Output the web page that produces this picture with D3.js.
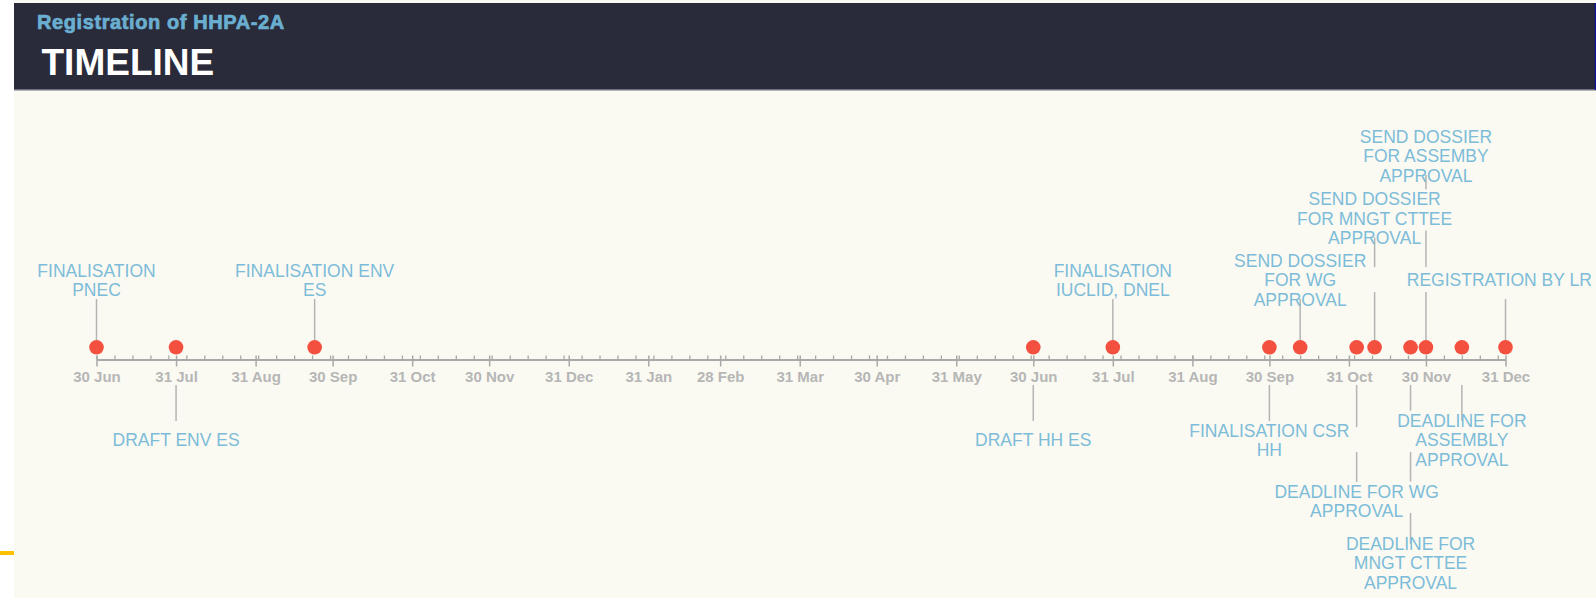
<!DOCTYPE html>
<html>
<head>
<meta charset="utf-8">
<script src="https://cdn.jsdelivr.net/npm/d3@7"></script>
<style>
  html, body { margin: 0; padding: 0; background: #ffffff; overflow: hidden; }
  svg { display: block; }
</style>
</head>
<body>
<svg id="chart" width="1596" height="598"></svg>
<script>
// ---- data -------------------------------------------------------------
const eventDates = [
  "2009-06-30", "2009-07-31", "2009-09-23",
  "2010-06-30", "2010-07-31", "2010-09-30",
  "2010-10-12", "2010-11-03", "2010-11-10",
  "2010-11-24", "2010-11-30", "2010-12-14", "2010-12-31"
];
const eventLabels = [
  "FINALISATION\nPNEC",
  "DRAFT ENV ES",
  "FINALISATION ENV\nES",
  "DRAFT HH ES",
  "FINALISATION\nIUCLID, DNEL",
  "FINALISATION CSR\nHH",
  "SEND DOSSIER\nFOR WG\nAPPROVAL",
  "DEADLINE FOR WG\nAPPROVAL",
  "SEND DOSSIER\nFOR MNGT CTTEE\nAPPROVAL",
  "DEADLINE FOR\nMNGT CTTEE\nAPPROVAL",
  "SEND DOSSIER\nFOR ASSEMBY\nAPPROVAL",
  "DEADLINE FOR\nASSEMBLY\nAPPROVAL",
  "REGISTRATION BY LR"
];
const tickDates = [
  "2009-06-30", "2009-07-31", "2009-08-31", "2009-09-30", "2009-10-31",
  "2009-11-30", "2009-12-31", "2010-01-31", "2010-02-28", "2010-03-31",
  "2010-04-30", "2010-05-31", "2010-06-30", "2010-07-31", "2010-08-31",
  "2010-09-30", "2010-10-31", "2010-11-30", "2010-12-31"
];
const timelineStart = "2009-06-30";
const timelineEnd = "2010-12-31";
const headerSubtitle = "Registration of HHPA-2A";
const headerTitle = "TIMELINE";

// ---- layout: which side of the axis each label sits on, and its tier ----
const labelSide = ["up", "down", "up", "down", "up", "down", "up", "down", "up", "down", "up", "down", "up"];
const labelTier = [1, 1, 1, 1, 1, 1, 1, 2, 2, 3, 3, 1, 1];

const W = 1596, H = 598;
const FONT = "'Liberation Sans', Arial, Helvetica, sans-serif";
const BG = "#fafaf2";
const axisY = 359.5, dotY = 347.3, dotR = 7.3;
const tierCenter = { up: { 1: 280, 2: 218.5, 3: 156 }, down: { 1: 440, 2: 501, 3: 563 } };
const labelSize = 17.5, lineH = 19.5;
const labelColor = "#7dbcd9";
const connColor = "#b4b4b4";

const parse = d3.timeParse("%Y-%m-%d");
const svg = d3.select("#chart");

// ---- page background and header ---------------------------------------
svg.append("rect").attr("x", 0).attr("y", 0).attr("width", W).attr("height", H).attr("fill", "#ffffff");
svg.append("rect").attr("x", 14).attr("y", 0).attr("width", W - 14).attr("height", H).attr("fill", BG);
svg.append("rect").attr("x", 14).attr("y", 3).attr("width", W - 14).attr("height", 87).attr("fill", "#2a2b3a");
svg.append("rect").attr("x", 14).attr("y", 89).attr("width", W - 14).attr("height", 1.5).attr("fill", "#6e6f7e");
svg.append("rect").attr("x", W - 1.2).attr("y", 3).attr("width", 1.2).attr("height", 87).attr("fill", "#1010a0");
svg.append("rect").attr("x", 0).attr("y", 551).attr("width", 14).attr("height", 4).attr("fill", "#ffc000");

svg.append("text").attr("x", 37).attr("y", 28.5)
  .attr("fill", "#6aafd1").attr("stroke", "#6aafd1").attr("stroke-width", 0.7)
  .style("font", `bold 20px ${FONT}`).style("letter-spacing", "0.6px")
  .text(headerSubtitle);
svg.append("text").attr("x", 41.5).attr("y", 75)
  .attr("fill", "#ffffff").style("font", `bold 37px ${FONT}`)
  .text(headerTitle);

// ---- scale and axis ---------------------------------------------------
const start = parse(timelineStart), end = parse(timelineEnd);
const x = d3.scaleTime().domain([start, end]).range([96.5, 1505.5]);
const fmt = d3.timeFormat("%d %b");

const weekly = d3.range(0, d3.timeDay.count(start, end) + 1, 7).map(k => d3.timeDay.offset(start, k));

const minorG = svg.append("g").attr("transform", `translate(0,${axisY})`);
minorG.call(d3.axisTop(x).tickValues(weekly).tickSize(4).tickFormat(() => ""));
minorG.select(".domain").remove();
minorG.selectAll(".tick line").attr("stroke", "#a9a9a9").attr("stroke-width", 1.3);

const axisG = svg.append("g").attr("transform", `translate(0,${axisY})`);
axisG.call(d3.axisBottom(x).tickValues(tickDates.map(parse)).tickFormat(fmt)
  .tickSize(7).tickSizeOuter(0).tickPadding(4.4));
axisG.select(".domain").attr("stroke", "#a9a9a9").attr("stroke-width", 2);
axisG.selectAll(".tick line").attr("y1", -4).attr("stroke", "#a9a9a9").attr("stroke-width", 1.5);
axisG.selectAll(".tick text").attr("fill", "#b6b6b6").style("font", `bold 15px ${FONT}`);

// ---- label geometry ---------------------------------------------------
const ctx = document.createElement("canvas").getContext("2d");
ctx.font = `${labelSize}px ${FONT}`;

const events = eventDates.map((d, i) => {
  const lines = eventLabels[i].split("\n");
  const widths = lines.map(l => ctx.measureText(l).width);
  const px = x(parse(d));
  const maxW = d3.max(widths);
  let cx = px;
  if (cx + maxW / 2 > W - 4) cx = W - 4 - maxW / 2;
  const side = labelSide[i], tier = labelTier[i];
  const c = tierCenter[side][tier];
  const rows = lines.map((t, j) => {
    const cy = c + (j - (lines.length - 1) / 2) * lineH;
    return { text: t, cy, x0: cx - widths[j] / 2, x1: cx + widths[j] / 2 };
  });
  return { px, cx, side, tier, c, rows };
});

// connector pieces, broken where they pass lower tiers or other labels
function pieces(ev) {
  let a, b;
  if (ev.side === "up") { a = ev.c + 19; b = dotY; }
  else { a = 385; b = ev.c - 19; }
  const skips = [];
  for (let t = 1; t < ev.tier; t++) {
    const c = tierCenter[ev.side][t];
    skips.push([c - 13, c + 12]);
  }
  events.forEach(o => {
    if (o === ev) return;
    o.rows.forEach(r => {
      if (ev.px >= r.x0 - 3 && ev.px <= r.x1 + 3) skips.push([r.cy - lineH / 2, r.cy + lineH / 2]);
    });
  });
  skips.sort((p, q) => p[0] - q[0]);
  const out = [];
  let cur = a;
  skips.forEach(([s0, s1]) => {
    if (s1 <= cur || s0 >= b) return;
    if (s0 > cur) out.push([cur, s0]);
    cur = Math.max(cur, s1);
  });
  if (cur < b) out.push([cur, b]);
  return out;
}

const connG = svg.append("g");
events.forEach(ev => {
  connG.selectAll(null).data(pieces(ev)).join("line")
    .attr("x1", ev.px).attr("x2", ev.px)
    .attr("y1", p => p[0]).attr("y2", p => p[1])
    .attr("stroke", connColor).attr("stroke-width", 1.5);
});

// ---- labels -----------------------------------------------------------
const labelG = svg.append("g");
events.forEach(ev => {
  labelG.selectAll(null).data(ev.rows).join("text")
    .attr("x", ev.cx).attr("y", r => r.cy + labelSize * 0.358)
    .attr("text-anchor", "middle")
    .attr("fill", labelColor)
    .style("font", `${labelSize}px ${FONT}`)
    .text(r => r.text);
});

// ---- event markers ----------------------------------------------------
svg.append("g").selectAll("circle").data(eventDates).join("circle")
  .attr("cx", d => x(parse(d))).attr("cy", dotY).attr("r", dotR)
  .attr("fill", "#f4503f");
</script>
</body>
</html>
